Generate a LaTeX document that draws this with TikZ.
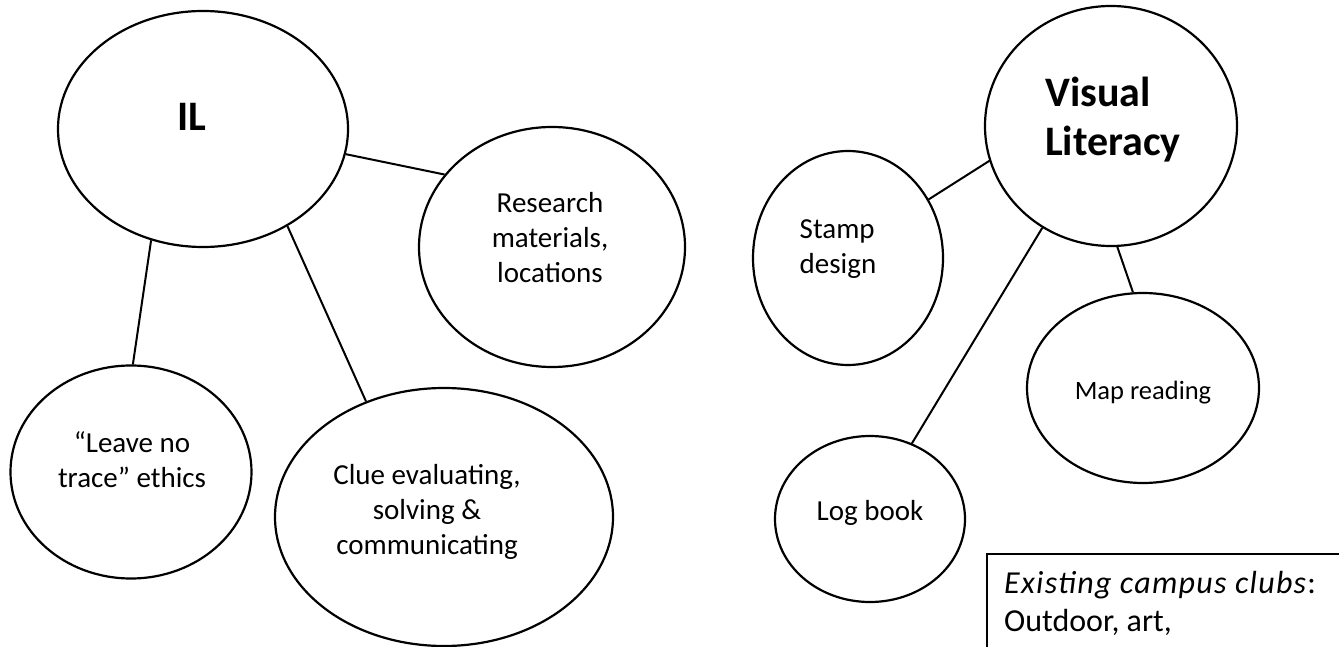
\documentclass[tikz,border=0pt]{standalone}
\usepackage{fontspec}
\setmainfont{Carlito}
\usetikzlibrary{shapes.geometric}
\begin{document}
\begin{tikzpicture}[x=1pt,y=-1pt,
  bubble/.style={draw, ellipse, line width=2.2pt, inner sep=0pt},
  label/.style={align=center, font=\fontsize{29}{35}\selectfont, inner sep=0pt},
  title/.style={font=\fontsize{42}{49}\selectfont\bfseries, inner sep=0pt},
  link/.style={line width=2pt}]
\useasboundingbox (0,0) rectangle (1339,647);

% information literacy cluster
\node[bubble, minimum width=290, minimum height=236] (il) at (203,129) {};
\node[title] (iltext) at (192,117) {IL};
\node[bubble, minimum width=266, minimum height=240] (research) at (552,247) {};
\node[label] (researchtext) at (550,238) {Research\\materials,\\locations};
\node[bubble, minimum width=241, minimum height=213] (leave) at (131,472) {};
\node[label] (leavetext) at (132,460) {“Leave no\\trace” ethics};
\node[bubble, minimum width=338, minimum height=258] (clue) at (444,517) {};
\node[label] (cluetext) at (427,512) {Clue evaluating,\\solving \&\\communicating};

\draw[link] (il.-10.8) -- (research.146);
\draw[link] (il.245) -- (leave.89.5);
\draw[link] (il.-49) -- (clue.124);

% visual literacy cluster
\node[bubble, minimum width=252, minimum height=240] (vl) at (1111,126) {};
\node[title, align=left, anchor=west] (vltext) at (1045,120) {Visual\\Literacy};
\node[bubble, minimum width=190, minimum height=214] (stamp) at (848,258) {};
\node[label, align=left] (stamptext) at (838,249) {Stamp\\design};
\node[bubble, minimum width=190, minimum height=166] (log) at (870,519) {};
\node[label] (logtext) at (870,513) {Log book};
\node[bubble, minimum width=232, minimum height=190] (map) at (1143,388) {};
\node[label, font=\fontsize{26.5}{35}\selectfont] (maptext) at (1143,393) {Map reading};

\draw[link] (vl.196.7) -- (stamp.36);
\draw[link] (vl.236.7) -- (log.61.4);
\draw[link] (vl.273.3) -- (map.96);

% note box, running off the page edge
\node[draw, line width=2.2pt, anchor=north west, minimum width=380, minimum height=140, inner sep=0pt] (clubs) at (986,553) {};
\node[label, align=left, anchor=north west, font=\fontsize{32}{38}\selectfont] (clubstext) at (1004,571) {\textit{\addfontfeatures{LetterSpace=4}Existing campus clubs}:\\Outdoor, art,};
\end{tikzpicture}
\end{document}
